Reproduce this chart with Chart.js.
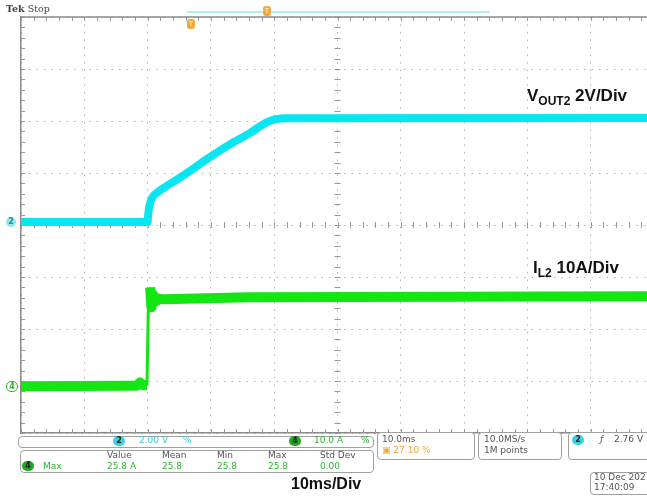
<!DOCTYPE html>
<html>
<head>
<meta charset="utf-8">
<script src="https://cdn.jsdelivr.net/npm/chart.js@4.4.1/dist/chart.umd.min.js"></script>
<style>
  body { margin: 0; width: 647px; height: 496px; overflow: hidden; position: relative; background: #fff; font-family: "Liberation Sans", Arial, sans-serif; }
  #wrap { position: absolute; left: 0; top: 0; width: 660px; height: 496px; }
  .lbl { position: absolute; font-weight: bold; color: #111; font-size: 17px; white-space: nowrap; }
  .lbl sub { font-size: 12px; vertical-align: -4px; }
  .box { position: absolute; border: 1px solid #a0a0a0; border-radius: 4px; background: #fff; }
  .t { position: absolute; font-family: "DejaVu Sans", sans-serif; font-size: 9px; color: #555; white-space: nowrap; }
  .cy { color: #3cc9d6; }
  .gr { color: #2fb52f; }
  .or { color: #f0a43a; }
  .dot { position: absolute; width: 12px; height: 10px; border-radius: 5px; font-family: "DejaVu Sans", sans-serif; font-size: 8px; font-weight: bold; text-align: center; line-height: 10px; color: #222; }
</style>
</head>
<body>
<div id="wrap"><canvas id="scope" width="660" height="496"></canvas></div>

<div class="t" style="left:6px; top:3px; font-family:'DejaVu Serif',serif; font-size:9.5px; color:#444;"><b>Tek</b> Stop</div>
<div style="position:absolute; left:187px; top:11px; width:303px; height:2px; background:#aef0f2;"></div>
<div style="position:absolute; left:263px; top:6px; width:8px; height:10px; border-radius:3px; background:#f2a93b; color:#fff; font-size:7px; text-align:center; line-height:10px;">T</div>
<div style="position:absolute; left:187px; top:19px; width:8px; height:10px; border-radius:3px; background:#f2a93b; color:#fff; font-size:7px; text-align:center; line-height:10px;">T</div>
<div class="dot" style="left:6px; top:217px; width:10px; background:#8fe8ee; color:#2a8a90;">2</div>
<div class="dot" style="left:6px; top:381px; width:10px; background:#fff; border:1px solid #2fb52f; color:#2fb52f; height:9px; line-height:9px;">4</div>

<div class="lbl" style="left:527px; top:86px;">V<sub>OUT2</sub> 2V/Div</div>
<div class="lbl" style="left:533px; top:258px;">I<sub>L2</sub> 10A/Div</div>
<div class="lbl" style="left:291px; top:475px; font-size:16px;">10ms/Div</div>

<div class="box" style="left:18px; top:436px; width:354px; height:10px;"></div>
<div class="dot" style="left:113px; top:436px; background:#3cd3df;">2</div>
<div class="t cy" style="left:139px; top:435px;">2.00 V</div>
<div class="t cy" style="left:183px; top:435px;">%</div>
<div class="dot" style="left:289px; top:436px; background:#22a822;">4</div>
<div class="t gr" style="left:314px; top:435px;">10.0 A</div>
<div class="t gr" style="left:361px; top:435px;">%</div>

<div class="box" style="left:20px; top:450px; width:352px; height:21px;"></div>
<div class="t" style="left:107px; top:450px;">Value</div>
<div class="t" style="left:162px; top:450px;">Mean</div>
<div class="t" style="left:217px; top:450px;">Min</div>
<div class="t" style="left:268px; top:450px;">Max</div>
<div class="t" style="left:320px; top:450px;">Std Dev</div>
<div class="dot" style="left:22px; top:461px; background:#22a822;">4</div>
<div class="t gr" style="left:43px; top:461px;">Max</div>
<div class="t gr" style="left:107px; top:461px;">25.8 A</div>
<div class="t gr" style="left:162px; top:461px;">25.8</div>
<div class="t gr" style="left:217px; top:461px;">25.8</div>
<div class="t gr" style="left:268px; top:461px;">25.8</div>
<div class="t gr" style="left:320px; top:461px;">0.00</div>

<div class="box" style="left:377px; top:432px; width:96px; height:26px;"></div>
<div class="t" style="left:382px; top:434px;">10.0ms</div>
<div class="t or" style="left:382px; top:445px;">&#9635; 27.10 %</div>

<div class="box" style="left:478px; top:432px; width:82px; height:26px;"></div>
<div class="t" style="left:484px; top:434px;">10.0MS/s</div>
<div class="t" style="left:484px; top:445px;">1M points</div>

<div class="box" style="left:568px; top:432px; width:90px; height:26px;"></div>
<div class="dot" style="left:572px; top:435px; background:#3cd3df;">2</div>
<div class="t" style="left:600px; top:434px; font-style:italic;">&#402;</div>
<div class="t" style="left:614px; top:434px;">2.76 V</div>

<div class="box" style="left:590px; top:472px; width:70px; height:21px;"></div>
<div class="t" style="left:594px; top:472px;">10 Dec 2021</div>
<div class="t" style="left:594px; top:482px;">17:40:09</div>

<script>
// time axis: 10 ms/div, 10 divisions
const xMin = 0, xMax = 100;

// Vout2 (V) trace, 2 V/div
const vTime = [0, 20, 20.1, 20.3, 20.7, 21.5, 23, 25, 29.9, 33, 36.2, 37.8, 38.9, 40.1, 42, 100];
const vOut  = [0, 0, 0.3, 0.62, 0.92, 1.12, 1.38, 1.68, 2.5, 2.98, 3.42, 3.68, 3.84, 3.94, 3.99, 4.0];

// IL2 (A) trace, 10 A/div
const iTime = [0, 17, 18.3, 18.8, 19.3, 19.9, 20.1, 20.4, 20.6, 20.9, 21.3, 21.8, 22.5, 36, 100];
const iL    = [0, 0.1, 0.1, 0.7, 0.2, 0.2, 14, 19, 15.2, 17.6, 16.3, 16.8, 16.7, 17.1, 17.3];

const vPerDiv = 2, vOffset = 0.06;    // ground marker 2 just above centre
const aPerDiv = 10, aOffset = -3.1;   // ground marker 4

const vPoints = vTime.map((t, i) => ({ x: t, y: vOut[i] / vPerDiv + vOffset }));
const iPoints = iTime.map((t, i) => ({ x: t, y: iL[i] / aPerDiv + aOffset }));

// thin stroke on the near-vertical edges
function edgeWidth(c, normal) {
    const dx = c.p1.parsed.x - c.p0.parsed.x;
    const dy = Math.abs(c.p1.parsed.y - c.p0.parsed.y);
    return (dx < 0.3 && dy > 0.4) ? 3 : normal;
}

const graticule = {
    id: 'graticule',
    beforeDatasetsDraw(chart) {
        const { ctx, chartArea: a, scales: { x, y } } = chart;
        const yc = y.getPixelForValue(0);
        const xc = x.getPixelForValue(50);
        ctx.save();
        ctx.strokeStyle = '#9a9a9a';
        ctx.lineWidth = 1;
        ctx.beginPath();
        for (let t = xMin; t <= xMax; t += 2) {
            const px = Math.round(x.getPixelForValue(t)) + 0.5;
            ctx.moveTo(px, yc - 3); ctx.lineTo(px, yc + 3);
            ctx.moveTo(px, a.top); ctx.lineTo(px, a.top + 4);
            ctx.moveTo(px, a.bottom); ctx.lineTo(px, a.bottom - 4);
        }
        for (let d = -4; d <= 4.001; d += 0.2) {
            const py = Math.round(y.getPixelForValue(d)) + 0.5;
            ctx.moveTo(xc - 3, py); ctx.lineTo(xc + 3, py);
            ctx.moveTo(a.left, py); ctx.lineTo(a.left + 4, py);
        }
        ctx.stroke();
        ctx.strokeStyle = '#8a8a8a';
        ctx.lineWidth = 1.5;
        ctx.beginPath();
        ctx.moveTo(a.left, a.top); ctx.lineTo(a.right, a.top);
        ctx.stroke();
        ctx.restore();
    }
};

const ctx = document.getElementById('scope').getContext('2d');
new Chart(ctx, {
    type: 'line',
    data: {
        datasets: [
            {
                label: 'IL2',
                data: iPoints,
                borderColor: 'rgb(20, 230, 20)',
                borderWidth: 10,
                borderJoinStyle: 'round',
                pointRadius: 0,
                tension: 0,
                fill: false,
                segment: { borderWidth: c => edgeWidth(c, 10) }
            },
            {
                label: 'Vout2',
                data: vPoints,
                borderColor: 'rgb(10, 230, 240)',
                borderWidth: 8,
                borderJoinStyle: 'round',
                pointRadius: 0,
                cubicInterpolationMode: 'monotone',
                fill: false
            }
        ]
    },
    options: {
        responsive: false,
        animation: false,
        layout: { padding: { left: 21, right: 6, top: 17, bottom: 63 } },
        plugins: { legend: { display: false }, tooltip: { enabled: false } },
        scales: {
            x: {
                type: 'linear',
                min: xMin,
                max: xMax,
                ticks: { display: false, stepSize: 10 },
                grid: { color: '#b4b4b4', drawTicks: false, lineWidth: 1 },
                border: { display: true, color: '#8a8a8a', width: 1.5, dash: [1.5, 6] }
            },
            y: {
                min: -4,
                max: 4,
                ticks: { display: false, stepSize: 1 },
                grid: { color: '#b4b4b4', drawTicks: false, lineWidth: 1 },
                border: { display: true, color: '#8a8a8a', width: 1.5, dash: [1.5, 6] }
            }
        }
    },
    plugins: [graticule]
});
</script>
</body>
</html>
